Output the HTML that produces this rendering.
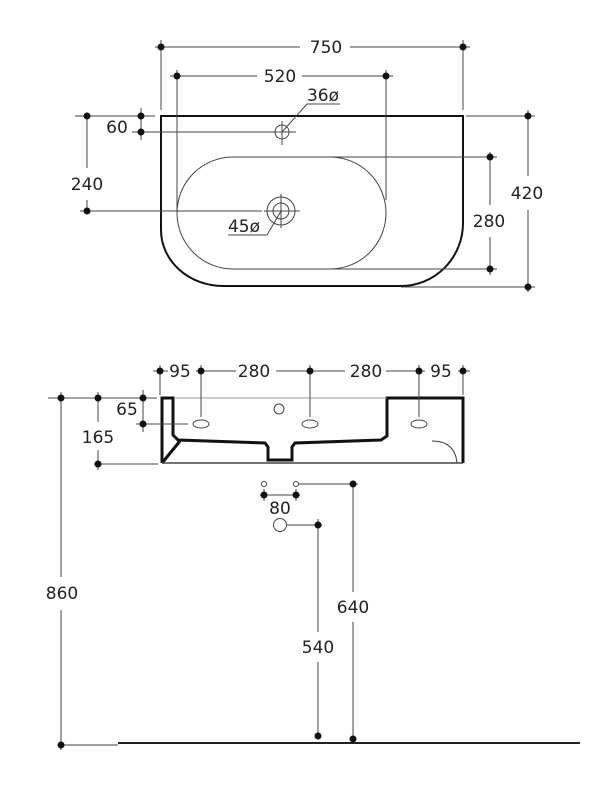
<!DOCTYPE html>
<html><head><meta charset="utf-8"><style>
html,body{margin:0;padding:0;background:#fff;}
svg{display:block;}
text{font-family:"DejaVu Sans","Liberation Sans",sans-serif;font-size:17px;fill:#222;text-anchor:middle;}
</style></head><body>
<svg width="600" height="789" viewBox="0 0 600 789" xmlns="http://www.w3.org/2000/svg">
<g stroke="#444" stroke-width="1" fill="none">
<!-- top view -->
<path d="M161 116 H463 V223 A62 63 0 0 1 401 286 H223 A62 56 0 0 1 161 230 Z" stroke="#111" stroke-width="2"/>
<rect x="177" y="157" width="209" height="112" rx="56" ry="56"/>
<circle cx="282" cy="132" r="7"/>
<line x1="282" y1="121" x2="282" y2="145"/><line x1="271" y1="132" x2="296" y2="132"/>
<circle cx="281" cy="211" r="14"/><circle cx="281" cy="211" r="8"/>
<line x1="281" y1="194" x2="281" y2="228"/><line x1="264" y1="211" x2="300" y2="211"/>
<!-- 750 -->
<line x1="155" y1="47" x2="300" y2="47"/><line x1="350" y1="47" x2="470" y2="47"/>
<line x1="161" y1="40" x2="161" y2="110"/><line x1="463" y1="40" x2="463" y2="110"/>
<!-- 520 -->
<line x1="170" y1="76" x2="257" y2="76"/><line x1="302" y1="76" x2="393" y2="76"/>
<line x1="177" y1="70" x2="177" y2="211"/><line x1="386" y1="70" x2="386" y2="200"/>
<polyline points="282,132 307,104 340,104"/>
<polyline points="281,211 267,235 228,235"/>
<!-- 420 -->
<line x1="466" y1="116" x2="535" y2="116"/><line x1="401" y1="287" x2="535" y2="287"/>
<line x1="528" y1="110" x2="528" y2="176"/><line x1="528" y1="210" x2="528" y2="292"/>
<!-- 280 -->
<line x1="330" y1="157" x2="497" y2="157"/><line x1="330" y1="269" x2="497" y2="269"/>
<line x1="490" y1="152" x2="490" y2="205"/><line x1="490" y1="237" x2="490" y2="275"/>
<!-- 240 / 60 -->
<line x1="75" y1="116" x2="155" y2="116"/>
<line x1="87" y1="116" x2="87" y2="168"/><line x1="87" y1="200" x2="87" y2="211"/>
<line x1="80" y1="211" x2="262" y2="211"/>
<line x1="141" y1="108" x2="141" y2="140"/>
<line x1="132" y1="132" x2="275" y2="132"/>

<!-- front view -->
<path d="M162 463 V398 H173 V435 L178 440 L265 443 L268 447 V460 H292 V447 L295 443 L381 440 L387 436 V398 H463 V463" stroke="#111" stroke-width="3"/>
<line x1="162" y1="463" x2="180" y2="441" stroke="#111" stroke-width="3"/>
<line x1="162" y1="463" x2="463" y2="463" stroke-width="1.5"/>
<path d="M432 441 Q455 441 457 463"/>
<line x1="174" y1="398" x2="387" y2="398" stroke="#999"/>
<ellipse cx="201" cy="424" rx="8" ry="4"/><ellipse cx="310" cy="424" rx="8" ry="4"/><ellipse cx="419" cy="424" rx="8" ry="4"/>
<circle cx="279" cy="409" r="5"/>
<line x1="153" y1="371" x2="168" y2="371"/>
<line x1="196" y1="371" x2="236" y2="371"/><line x1="276" y1="371" x2="345" y2="371"/>
<line x1="386" y1="371" x2="425" y2="371"/><line x1="458" y1="371" x2="470" y2="371"/>
<line x1="160" y1="365" x2="160" y2="395"/><line x1="463" y1="365" x2="463" y2="395"/>
<line x1="201" y1="365" x2="201" y2="417"/><line x1="310" y1="365" x2="310" y2="417"/><line x1="419" y1="365" x2="419" y2="417"/>
<line x1="48" y1="398" x2="157" y2="398"/>
<line x1="143" y1="390" x2="143" y2="432"/>
<line x1="136" y1="424" x2="188" y2="424"/>
<line x1="98" y1="392" x2="98" y2="422"/><line x1="98" y1="450" x2="98" y2="470"/>
<line x1="94" y1="464" x2="158" y2="464"/>
<line x1="61" y1="392" x2="61" y2="577"/><line x1="61" y1="610" x2="61" y2="750"/>
<line x1="61" y1="745" x2="118" y2="745"/>
<!-- pipes -->
<circle cx="264" cy="484" r="2.5"/><circle cx="296" cy="484" r="2.5"/>
<line x1="260" y1="495" x2="300" y2="495"/>
<line x1="264" y1="489" x2="264" y2="501"/><line x1="296" y1="489" x2="296" y2="501"/>
<line x1="299" y1="484" x2="358" y2="484"/>
<line x1="353" y1="484" x2="353" y2="592"/><line x1="353" y1="622" x2="353" y2="739"/>
<circle cx="280" cy="525" r="6.5"/>
<line x1="287" y1="525" x2="322" y2="525"/>
<line x1="318" y1="519" x2="318" y2="632"/><line x1="318" y1="662" x2="318" y2="736"/>
<line x1="118" y1="743" x2="580" y2="743" stroke="#222" stroke-width="2"/>
</g>
<g fill="#111">
<circle cx="161" cy="47" r="3.5"/><circle cx="463" cy="47" r="3.5"/>
<circle cx="177" cy="76" r="3.5"/><circle cx="386" cy="76" r="3.5"/>
<circle cx="528" cy="116" r="3.5"/><circle cx="528" cy="287" r="3.5"/>
<circle cx="490" cy="157" r="3.5"/><circle cx="490" cy="269" r="3.5"/>
<circle cx="87" cy="116" r="3.5"/><circle cx="87" cy="211" r="3.5"/>
<circle cx="141" cy="116" r="3.5"/><circle cx="141" cy="132" r="3.5"/>
<circle cx="160" cy="371" r="3.5"/><circle cx="201" cy="371" r="3.5"/><circle cx="310" cy="371" r="3.5"/><circle cx="419" cy="371" r="3.5"/><circle cx="463" cy="371" r="3.5"/>
<circle cx="61" cy="398" r="3.5"/><circle cx="98" cy="398" r="3.5"/><circle cx="143" cy="398" r="3.5"/><circle cx="143" cy="424" r="3.5"/>
<circle cx="98" cy="464" r="3.5"/><circle cx="61" cy="745" r="3.5"/>
<circle cx="264" cy="495" r="3.5"/><circle cx="296" cy="495" r="3.5"/>
<circle cx="353" cy="484" r="3.5"/><circle cx="353" cy="739" r="3.5"/>
<circle cx="318" cy="525" r="3.5"/><circle cx="318" cy="736" r="3.5"/>
</g>
<text x="326" y="53">750</text>
<text x="280" y="82">520</text>
<text x="323" y="101">36ø</text>
<text x="244" y="232">45ø</text>
<text x="117" y="133">60</text>
<text x="87" y="190">240</text>
<text x="489" y="227">280</text>
<text x="527" y="199">420</text>
<text x="180" y="377">95</text>
<text x="254" y="377">280</text>
<text x="366" y="377">280</text>
<text x="441" y="377">95</text>
<text x="127" y="415">65</text>
<text x="98" y="443">165</text>
<text x="62" y="599">860</text>
<text x="280" y="514">80</text>
<text x="353" y="613">640</text>
<text x="318" y="653">540</text>
</svg>
</body></html>
